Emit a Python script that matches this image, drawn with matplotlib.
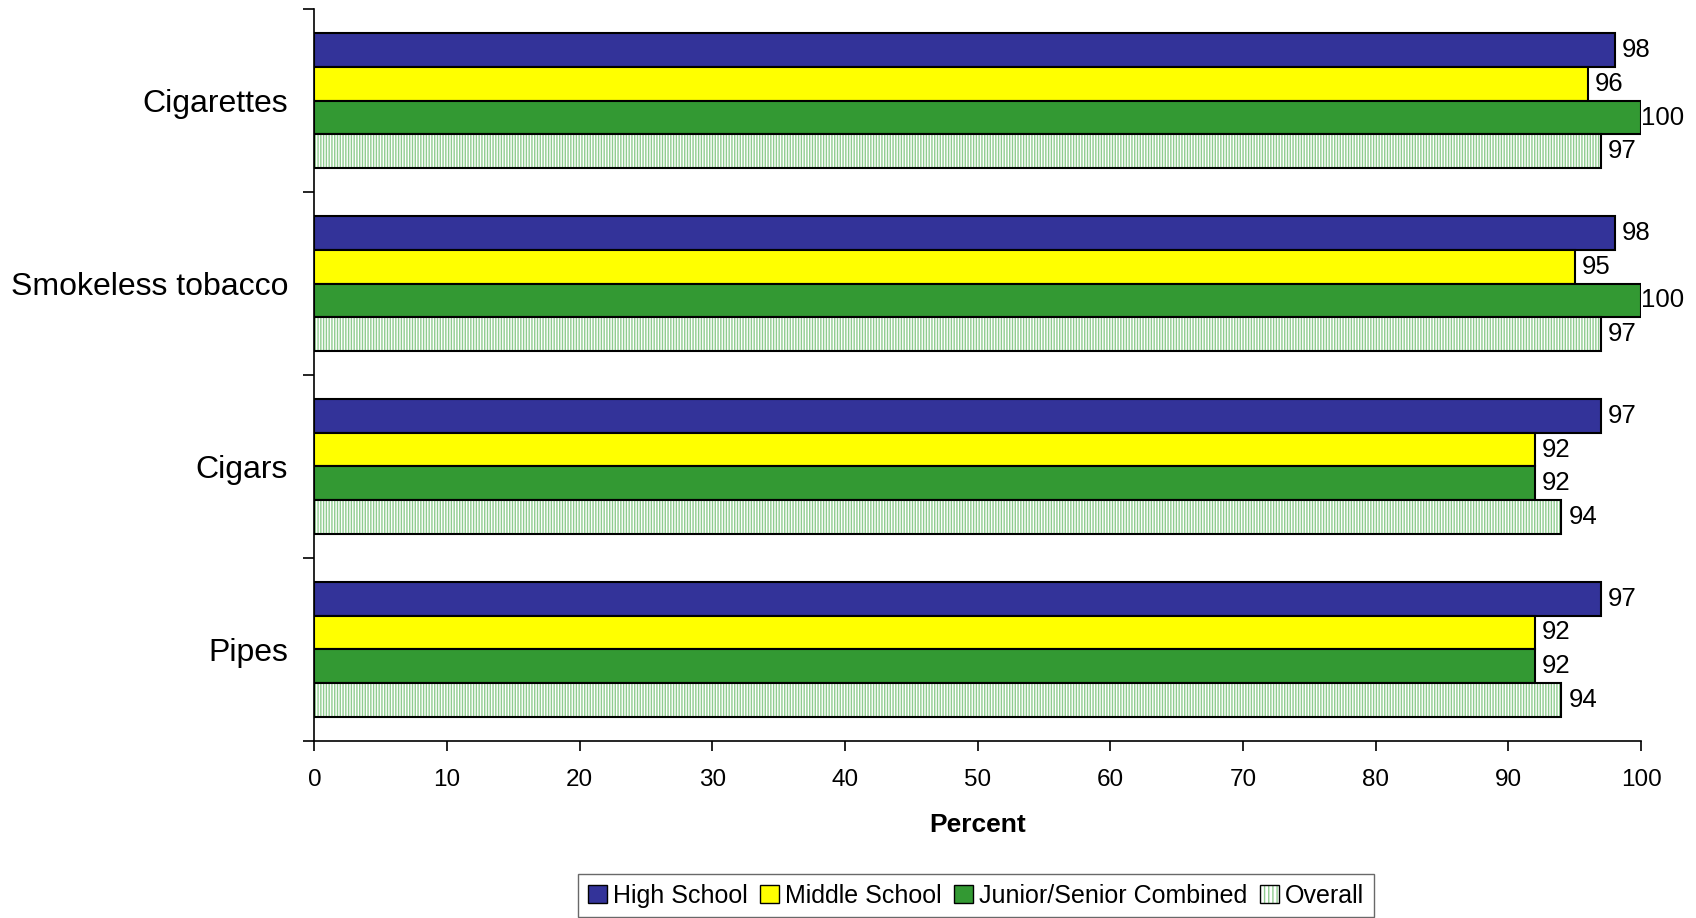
import matplotlib.pyplot as plt
import matplotlib.patches as mpatches
import numpy as np

plt.rcParams["font.family"] = ["Liberation Sans", "DejaVu Sans"]
plt.rcParams["hatch.linewidth"] = 1.0

categories = ["Cigarettes", "Smokeless tobacco", "Cigars", "Pipes"]
series = ["High School", "Middle School", "Junior/Senior Combined", "Overall"]
high_school = [98, 98, 97, 97]
middle_school = [96, 95, 92, 92]
junior_senior = [100, 100, 92, 92]
overall = [97, 97, 94, 94]
values = [high_school, middle_school, junior_senior, overall]

colors = ["#333399", "#FFFF00", "#339933", "white"]
hatch_green = "#8FCC8F"

fig = plt.figure(figsize=(16.96, 9.18), dpi=100)
ax = fig.add_axes([0.1854, 0.193, 0.7822, 0.797])

y = np.arange(len(categories))
h = 0.185
offsets = [-1.5, -0.5, 0.5, 1.5]

for k, vals in enumerate(values):
    pos = y + offsets[k] * h
    if series[k] == "Overall":
        ax.barh(pos, vals, height=h, color="white", edgecolor=hatch_green,
                hatch="||||||", linewidth=0)
        ax.barh(pos, vals, height=h, fill=False, edgecolor="black", linewidth=1.5)
    else:
        ax.barh(pos, vals, height=h, color=colors[k], edgecolor="black", linewidth=1.5)
    for p, v in zip(pos, vals):
        gap = 5 if v < 100 else 0
        ax.annotate(str(v), (v, p), xytext=(gap, 0), textcoords="offset points",
                    va="center", ha="left", fontsize=18.5)

ax.set_xlim(0, 100)
ax.set_ylim(3.5, -0.5)
ax.set_xticks(np.arange(0, 101, 10))
ax.tick_params(axis="x", labelsize=17.5, length=7, width=1.2, pad=13)
ax.set_yticks(np.arange(-0.5, 4, 1))
ax.set_yticklabels([])
ax.set_yticks(y, minor=True)
ax.set_yticklabels(categories, minor=True, fontsize=23)
ax.tick_params(axis="y", which="major", length=8, width=1.2)
ax.tick_params(axis="y", which="minor", length=0, pad=19)

for s in ["top", "right"]:
    ax.spines[s].set_visible(False)
for s in ["left", "bottom"]:
    ax.spines[s].set_linewidth(1.2)

ax.set_xlabel("Percent", fontsize=19, fontweight="bold", labelpad=16)

handles = []
for k in range(len(series)):
    if series[k] == "Overall":
        handles.append((mpatches.Patch(facecolor="white", edgecolor=hatch_green,
                                       hatch="||||", linewidth=0),
                        mpatches.Patch(fill=False, edgecolor="black")))
    else:
        handles.append(mpatches.Patch(facecolor=colors[k], edgecolor="black"))

leg = fig.legend(handles=handles, labels=series, loc="center",
                 bbox_to_anchor=(0.5755, 0.0245),
                 ncol=4, fontsize=18, frameon=True, fancybox=False,
                 handlelength=0.75, handleheight=0.75, handletextpad=0.25,
                 columnspacing=0.5, borderpad=0.38)
leg.get_frame().set_edgecolor("#444444")
leg.get_frame().set_linewidth(1.0)

fig.savefig("out.png", dpi=100)
